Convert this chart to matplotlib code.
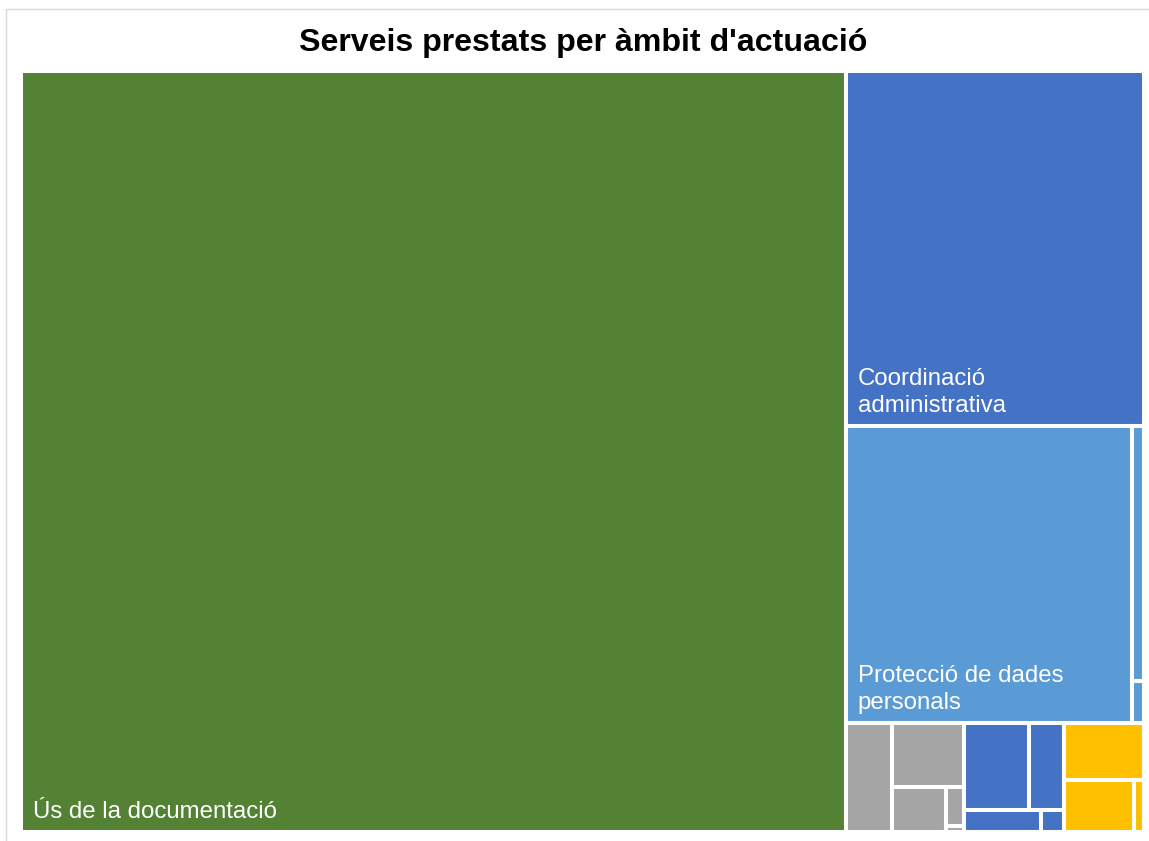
import matplotlib.pyplot as plt
from matplotlib.patches import Rectangle

plt.rcParams['font.family'] = ['Liberation Sans', 'DejaVu Sans']

# ambits (grups) i serveis de cada ambit
groups = ["Ús de la documentació", "Coordinació administrativa",
          "Protecció de dades personals", "Altres àmbits A",
          "Altres àmbits B", "Altres àmbits C"]
labels = ["Ús de la documentació", "Coordinació\nadministrativa",
          "Protecció de dades\npersonals", "", "", ""]
us_doc = [6223]
coord = [1048]
proteccio = [842, 31, 5]
altres_a = [50, 46, 24, 7, 1]
altres_b = [56, 30, 17, 5]
altres_c = [46, 36, 5]
children = [us_doc, coord, proteccio, altres_a, altres_b, altres_c]
colors = ['#548235', '#4472C4', '#5B9BD5', '#A5A5A5', '#4472C4', '#FFC000']
# quants elements per franja en cada grup
strips = [[1], [1], [1, 1, 1], [1, 1, 1, 1, 1], [2, 1, 1], [1, 1, 1]]


def layout(values, x, y, w, h, counts):
    scale = w * h / sum(values)
    out = []
    i = 0
    for k in counts:
        row = values[i:i + k]
        i += k
        s = sum(row) * scale
        if w >= h:
            cw = s / h
            yy = y
            for v in row:
                hh = v * scale / cw
                out.append((x, yy, cw, hh))
                yy += hh
            x += cw
            w -= cw
        else:
            rh = s / w
            xx = x
            for v in row:
                ww = v * scale / rh
                out.append((xx, y, ww, rh))
                xx += ww
            y += rh
            h -= rh
    return out


fig = plt.figure(figsize=(11.49, 8.41), dpi=100)
ax = fig.add_axes([0, 0, 1, 1])
ax.set_xlim(0, 1149)
ax.set_ylim(841, 0)
ax.axis('off')

ax.add_patch(Rectangle((6, 9), 1200, 900, fill=False, edgecolor='#D9D9D9', lw=1))

sums = [sum(c) for c in children]
top = layout(sums, 21, 71, 1123, 761, [1] * len(sums))
for g, (gx, gy, gw, gh) in enumerate(top):
    cells = layout(children[g], gx, gy, gw, gh, strips[g])
    for (cx, cy, cw, ch) in cells:
        ax.add_patch(Rectangle((cx, cy), cw, ch, facecolor=colors[g],
                               edgecolor='white', lw=2.9))
    if labels[g]:
        cx, cy, cw, ch = cells[0]
        ax.annotate(labels[g], (cx, cy + ch), xytext=(8.6, 10),
                    textcoords='offset points', color='white', fontsize=17.3,
                    ha='left', va='baseline', linespacing=1.3)

fig.text(0.5074, 1 - 43 / 841, "Serveis prestats per àmbit d'actuació",
         ha='center', va='center', fontsize=23.1, fontweight='bold')

fig.savefig('out.png', dpi=100)
